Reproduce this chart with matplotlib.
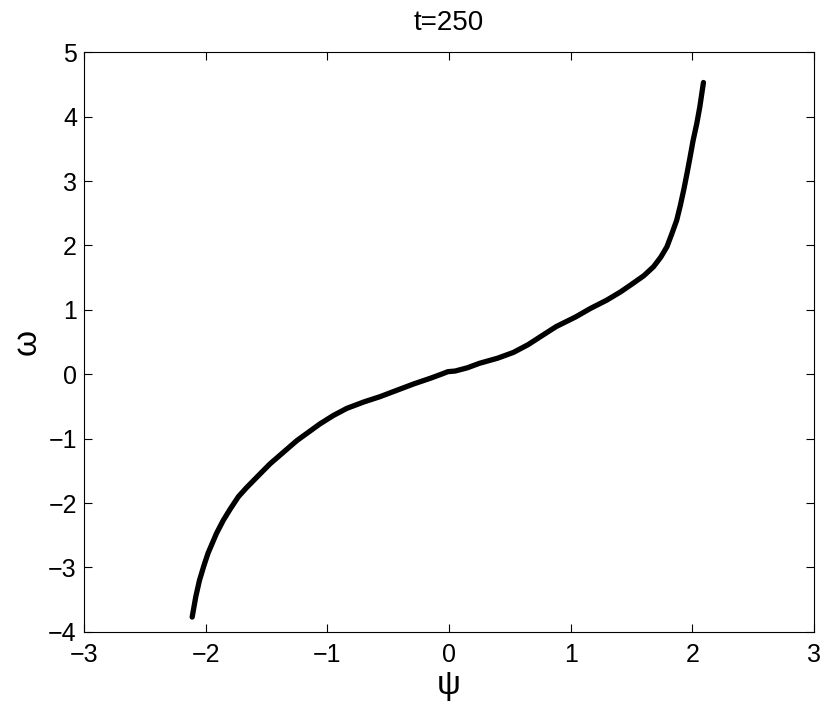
import numpy as np
import matplotlib
matplotlib.use("Agg")
import matplotlib.pyplot as plt

plt.rcParams['font.family'] = ['Liberation Sans', 'DejaVu Sans']

psi = [-2.11, -2.08, -2.05, -2.015, -1.98, -1.91, -1.855, -1.80, -1.73, -1.663, -1.58,
       -1.47, -1.36, -1.25, -1.06, -0.95, -0.84, -0.70, -0.57, -0.43, -0.29, -0.15,
       -0.05, -0.01, 0.05, 0.15, 0.25, 0.40, 0.53, 0.65, 0.748, 0.88, 1.04, 1.16,
       1.295, 1.41, 1.51, 1.60, 1.68, 1.74, 1.79, 1.83, 1.87, 1.90, 1.93, 1.955,
       1.98, 2.005, 2.035, 2.06, 2.09]
omega = [-3.77, -3.45, -3.20, -2.98, -2.78, -2.47, -2.27, -2.10, -1.90, -1.76, -1.60,
         -1.39, -1.21, -1.03, -0.77, -0.64, -0.53, -0.43, -0.35, -0.25, -0.15, -0.06,
         0.01, 0.04, 0.05, 0.10, 0.17, 0.25, 0.34, 0.46, 0.58, 0.74, 0.89, 1.02,
         1.15, 1.28, 1.41, 1.53, 1.67, 1.82, 1.98, 2.18, 2.39, 2.62, 2.88, 3.12,
         3.37, 3.63, 3.89, 4.15, 4.53]

title = "t=250"
xlabel = "ψ"
ylabel = "ω"
xticks = [-3, -2, -1, 0, 1, 2, 3]
yticks = [-4, -3, -2, -1, 0, 1, 2, 3, 4, 5]

fig = plt.figure(figsize=(8.30, 7.06), dpi=100)
ax = fig.add_axes([0.101, 0.105, 0.880, 0.821])
ax.plot(psi, omega, color='black', lw=3.8, solid_capstyle='round', solid_joinstyle='round')
ax.set_xlim(-3, 3)
ax.set_ylim(-4, 5)
ax.set_xticks(xticks)
ax.set_yticks(yticks)
ax.set_xticklabels([str(t).replace('-', '\u2212') for t in xticks])
ax.set_yticklabels([str(t).replace('-', '\u2212') for t in yticks])
ax.tick_params(direction='in', top=True, right=True, length=6, width=0.8, labelsize=18)
ax.tick_params(axis='x', pad=8)
ax.tick_params(axis='y', pad=5)
for s in ax.spines.values():
    s.set_linewidth(0.8)
ax.set_title(title, fontsize=20, pad=16)
ax.set_xlabel(xlabel, fontsize=24, labelpad=2)
ax.set_ylabel(ylabel, fontsize=24, labelpad=4)
fig.savefig("out.png", dpi=100)
